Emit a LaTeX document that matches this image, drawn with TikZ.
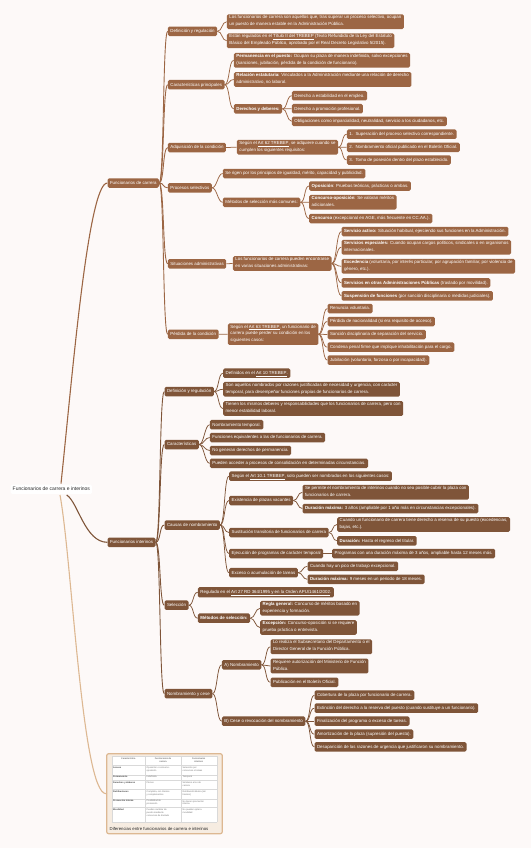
\documentclass[tikz,border=0pt]{standalone}
\usepackage{fontspec}
\setmainfont{Liberation Sans}
\definecolor{carr}{HTML}{9C6644}
\definecolor{intr}{HTML}{7F5539}
\definecolor{tanline}{HTML}{DDB892}
\definecolor{tabfill}{HTML}{F6ECE1}
\definecolor{paper}{HTML}{FDF9F8}

\tikzset{
	box/.style={rounded corners=1.5pt, inner xsep=2.5pt, inner ysep=1.35pt, text=white, align=left, anchor=west,
		font=\fontsize{4.4}{6.8}\selectfont, execute at begin node=\strut, execute at end node=\strut},
	cbox/.style={box, fill=carr},
	ibox/.style={box, fill=intr},
	link/.style={to path={.. controls +(5,0) and +(-5,0) .. (\tikztotarget)}},
	cline/.style={draw=carr, line width=0.75pt, link},
	iline/.style={draw=intr, line width=0.75pt, link},
	gridline/.style={draw=black!15, line width=0.3pt},
	cell/.style={anchor=north west, inner sep=0pt, align=left, text=black!55, font=\fontsize{2.3}{2.9}\selectfont},
	head/.style={anchor=north, inner sep=0pt, align=center, text=black!75, font=\fontsize{2.3}{2.9}\selectfont},
}

\begin{document}
\begin{tikzpicture}[x=1pt, y=-1pt]
	\useasboundingbox[fill=paper] (0,0) rectangle (531,848);
	
	% Root
	\node[box, fill=white, text=black!85, inner xsep=2pt, font=\fontsize{5}{6.8}\selectfont] (root) at (10.5,489.3) {Funcionarios de carrera e interinos};
	\coordinate (rtop) at (61,483.5);
	\coordinate (rbot) at (66.7,495);
	\coordinate (rtbl) at (60,495);
	
	% Funcionarios de carrera
	\node[cbox] (c0) at (107.3,183) {Funcionarios de carrera};
	
	\node[cbox] (c1) at (167.7,31.3) {Definición y regulación};
	\node[cbox] (c11) at (226.7,21.7) {Los funcionarios de carrera son aquellos que, tras superar un proceso selectivo, ocupan\\un puesto de manera estable en la Administración Pública.};
	\node[cbox] (c12) at (226.7,40.8) {Están regulados en el \underline{Título II del TREBEP} (Texto Refundido de la Ley del Estatuto\\Básico del Empleado Público, aprobado por el Real Decreto Legislativo 5/2015).};
	
	\node[cbox] (c2) at (167.7,84.7) {Características principales};
	\node[cbox] (c21) at (233.7,60.3) {\textbf{Permanencia en el puesto:} Ocupan su plaza de manera indefinida, salvo excepciones\\(sanciones, jubilación, pérdida de la condición de funcionario).};
	\node[cbox] (c22) at (233.7,79.5) {\textbf{Relación estatutaria:} Vinculados a la Administración mediante una relación de derecho\\administrativo, no laboral.};
	\node[cbox] (c23) at (233.7,108.8) {\textbf{Derechos y deberes:}};
	\node[cbox] (c231) at (291.7,95.7) {Derecho a estabilidad en el empleo.};
	\node[cbox] (c232) at (291.7,108.7) {Derecho a promoción profesional.};
	\node[cbox] (c233) at (291.7,121.3) {Obligaciones como imparcialidad, neutralidad, servicio a los ciudadanos, etc.};
	
	\node[cbox] (c3) at (167.7,147.5) {Adquisición de la condición};
	\node[cbox] (c31) at (236.7,147.2) {Según el \underline{Art 62 TREBEP}, se adquiere cuando se\\cumplen los siguientes requisitos:};
	\node[cbox] (c311) at (346.7,134.2) {1.\ \ Superación del proceso selectivo correspondiente.};
	\node[cbox] (c312) at (346.7,147.3) {2.\ \ Nombramiento oficial publicado en el Boletín Oficial.};
	\node[cbox] (c313) at (346.7,160) {3.\ \ Toma de posesión dentro del plazo establecido.};
	
	\node[cbox] (c4) at (167.7,187.8) {Procesos selectivos};
	\node[cbox] (c41) at (222.7,173.5) {Se rigen por los principios de igualdad, mérito, capacidad y publicidad.};
	\node[cbox] (c42) at (222.7,202.3) {Métodos de selección más comunes:};
	\node[cbox] (c421) at (309,186) {\textbf{Oposición}: Pruebas teóricas, prácticas o ambas.};
	\node[cbox] (c422) at (309,202.2) {\textbf{Concurso-oposición}: Se valoran méritos\\adicionales.};
	\node[cbox] (c423) at (309,218.5) {\textbf{Concurso} (excepcional en AGE, más frecuente en CC.AA.).};
	
	\node[cbox] (c5) at (167.7,263.8) {Situaciones administrativas};
	\node[cbox] (c51) at (232.7,263.5) {Los funcionarios de carrera pueden encontrarse\\en varias situaciones administrativas:};
	\node[cbox] (c511) at (341.3,231.5) {\textbf{Servicio activo:} Situación habitual, ejerciendo sus funciones en la Administración.};
	\node[cbox] (c512) at (341.3,247.2) {\textbf{Servicios especiales:} Cuando ocupan cargos políticos, sindicales o en organismos\\internacionales.};
	\node[cbox] (c513) at (341.3,266.3) {\textbf{Excedencia} (voluntaria, por interés particular, por agrupación familiar, por violencia de\\género, etc.).};
	\node[cbox] (c514) at (341.3,282.8) {\textbf{Servicios en otras Administraciones Públicas} (traslado por movilidad).};
	\node[cbox] (c515) at (341.3,295.8) {\textbf{Suspensión de funciones} (por sanción disciplinaria o medidas judiciales).};
	
	\node[cbox] (c6) at (167.7,334.3) {Pérdida de la condición};
	\node[cbox] (c61) at (227.7,334.2) {Según el \underline{Art 63 TREBEP}, un funcionario de\\carrera puede perder su condición en los\\siguientes casos:};
	\node[cbox] (c611) at (327.3,308.5) {Renuncia voluntaria.};
	\node[cbox] (c612) at (327.3,321.5) {Pérdida de nacionalidad (si era requisito de acceso).};
	\node[cbox] (c613) at (327.3,334.5) {Sanción disciplinaria de separación del servicio.};
	\node[cbox] (c614) at (327.3,347.2) {Condena penal firme que implique inhabilitación para el cargo.};
	\node[cbox] (c615) at (327.3,360.2) {Jubilación (voluntaria, forzosa o por incapacidad).};
	
	% Funcionarios interinos
	\node[ibox] (i0) at (107.3,542.3) {Funcionarios interinos};
	
	\node[ibox] (i1) at (164.3,391.5) {Definición y regulación};
	\node[ibox] (i11) at (223,373.2) {Definidos en el \underline{Art 10 TREBEP}.};
	\node[ibox] (i12) at (223,389.3) {Son aquellos nombrados por razones justificadas de necesidad y urgencia, con carácter\\temporal, para desempeñar funciones propias de funcionarios de carrera.};
	\node[ibox] (i13) at (223,408.5) {Tienen los mismos deberes y responsabilidades que los funcionarios de carrera, pero con\\menor estabilidad laboral.};
	
	\node[ibox] (i2) at (164.3,444.5) {Características};
	\node[ibox] (i21) at (209.7,424.7) {Nombramiento temporal.};
	\node[ibox] (i22) at (209.7,437.5) {Funciones equivalentes a las de funcionarios de carrera.};
	\node[ibox] (i23) at (209.7,450.5) {No generan derechos de permanencia.};
	\node[ibox] (i24) at (209.7,463.3) {Pueden acceder a procesos de consolidación en determinadas circunstancias.};
	
	\node[ibox] (i3) at (164.3,525) {Causas de nombramiento};
	\node[ibox] (i31) at (229,476.2) {Según el \underline{Art 10.1 TREBEP}, solo pueden ser nombrados en los siguientes casos:};
	\node[ibox] (i32) at (229,500.5) {Existencia de plazas vacantes};
	\node[ibox] (i321) at (302.3,492.3) {Se permite el nombramiento de interinos cuando no sea posible cubrir la plaza con\\funcionarios de carrera.};
	\node[ibox] (i322) at (302.3,508.5) {\textbf{Duración máxima:} 3 años (ampliable por 1 año más en circunstancias excepcionales).};
	\node[ibox] (i33) at (229,532.5) {Sustitución transitoria de funcionarios de carrera};
	\node[ibox] (i331) at (337,524.5) {Cuando un funcionario de carrera tiene derecho a reserva de su puesto (excedencias,\\bajas, etc.).};
	\node[ibox] (i332) at (337,540.8) {\textbf{Duración:} Hasta el regreso del titular.};
	\node[ibox] (i34) at (229,553.5) {Ejecución de programas de carácter temporal};
	\node[ibox] (i341) at (332,553.5) {Programas con una duración máxima de 3 años, ampliable hasta 12 meses más.};
	\node[ibox] (i35) at (229,572.7) {Exceso o acumulación de tareas};
	\node[ibox] (i351) at (307.3,566.3) {Cuando hay un pico de trabajo excepcional.};
	\node[ibox] (i352) at (307.3,579.3) {\textbf{Duración máxima:} 9 meses en un periodo de 18 meses.};
	
	\node[ibox] (i4) at (164.3,605.2) {Selección};
	\node[ibox] (i41) at (197.7,592.3) {Regulado en el \underline{Art 27 RD 364/1995 y en la Orden APU/1461/2002}.};
	\node[ibox] (i42) at (197.7,618.2) {\textbf{Métodos de selección:}};
	\node[ibox] (i421) at (260,608.3) {\textbf{Regla general:} Concurso de méritos basado en\\experiencia y formación.};
	\node[ibox] (i422) at (260,627.5) {\textbf{Excepción:} Concurso-oposición si se requiere\\prueba práctica o entrevista.};
	
	\node[ibox] (i5) at (164.3,693.7) {Nombramiento y cese};
	\node[ibox] (i51) at (221.7,664.8) {A) Nombramiento};
	\node[ibox] (i511) at (270.3,646.8) {Lo realiza el Subsecretario del Departamento o el\\Director General de la Función Pública.};
	\node[ibox] (i512) at (270.3,666) {Requiere autorización del Ministerio de Función\\Pública.};
	\node[ibox] (i513) at (270.3,682.3) {Publicación en el Boletín Oficial.};
	\node[ibox] (i52) at (221.7,721.2) {B) Cese o revocación del nombramiento};
	\node[ibox] (i521) at (314.3,695.2) {Cobertura de la plaza por funcionario de carrera.};
	\node[ibox] (i522) at (314.3,708.2) {Extinción del derecho a la reserva del puesto (cuando sustituye a un funcionario).};
	\node[ibox] (i523) at (314.3,721.2) {Finalización del programa o exceso de tareas.};
	\node[ibox] (i524) at (314.3,734.2) {Amortización de la plaza (supresión del puesto).};
	\node[ibox] (i525) at (314.3,746.8) {Desaparición de las razones de urgencia que justificaron su nombramiento.};
	
	% Table
	\node[draw=tanline, fill=tabfill, line width=1.2pt, rounded corners=2pt, minimum width=115.6pt, minimum height=80pt, inner sep=0pt] (tbl) at (164.5,793.7) {};
	\fill[white] (111.7,756) rectangle (216.7,822);
	\foreach \y in {756,765.3,774.7,780,789.3,798.7,807,822}
		\draw[gridline] (111.7,\y) -- (216.7,\y);
	\foreach \x in {111.7,145,181,216.7}
		\draw[gridline] (\x,756) -- (\x,822);
	
	\node[head] (th1) at (128.3,757.3) {Característica};
	\node[head] (th2) at (163,757.3) {Funcionarios de\\carrera};
	\node[head] (th3) at (198.8,757.3) {Funcionarios\\interinos};
	
	\node[cell, font=\fontsize{2.3}{2.9}\selectfont\bfseries, text=black!75] (ta1) at (113,766.8) {Acceso};
	\node[cell] (tb1) at (146.5,766.8) {Oposición o concurso-\\oposición};
	\node[cell] (tc1) at (182.5,766.8) {Selección por\\concursos o bolsas};
	\node[cell, font=\fontsize{2.3}{2.9}\selectfont\bfseries, text=black!75] (ta2) at (113,776) {Permanencia};
	\node[cell] (tb2) at (146.5,776) {Indefinida};
	\node[cell] (tc2) at (182.5,776) {Temporal};
	\node[cell, font=\fontsize{2.3}{2.9}\selectfont\bfseries, text=black!75] (ta3) at (113,781.3) {Derechos y deberes};
	\node[cell] (tb3) at (146.5,781.3) {Plenos};
	\node[cell] (tc3) at (182.5,781.3) {Similares a los de\\carrera};
	\node[cell, font=\fontsize{2.3}{2.9}\selectfont\bfseries, text=black!75] (ta4) at (113,790.8) {Retribuciones};
	\node[cell] (tb4) at (146.5,790.8) {Completa, con trienios\\y complementos};
	\node[cell] (tc4) at (182.5,790.8) {Retribución básica (sin\\trienios)};
	\node[cell, font=\fontsize{2.3}{2.9}\selectfont\bfseries, text=black!75] (ta5) at (113,800.1) {Promoción interna};
	\node[cell] (tb5) at (146.5,800.1) {Posibilidad de\\promoción};
	\node[cell] (tc5) at (182.5,800.1) {No tienen promoción\\interna};
	\node[cell, font=\fontsize{2.3}{2.9}\selectfont\bfseries, text=black!75] (ta6) at (113,808.5) {Movilidad};
	\node[cell] (tb6) at (146.5,808.5) {Pueden cambiar de\\puesto mediante\\concursos de traslado};
	\node[cell] (tc6) at (182.5,808.5) {No pueden optar a\\movilidad};
	
	\node[anchor=west, inner sep=0pt, text=black!85, font=\fontsize{4.3}{5}\selectfont] (tcap) at (109.5,828.6) {Diferencias entre funcionarios de carrera e interinos};
	
	% Connect root to main branches
	\draw[draw=carr, line width=1.1pt] (rtop) .. controls (72,380) and (88,183) .. (c0.west);
	\draw[draw=intr, line width=1.1pt] (rbot) .. controls (78,502) and (85,542.3) .. (i0.west);
	\draw[draw=tanline, line width=1.1pt] (rtbl) .. controls (72,560) and (82,793.7) .. (tbl.west);
	
	% Connect carrera branch
	\foreach \k in {1,...,6} {
		\draw[cline, line width=0.9pt] (c0.east) to (c\k.west);
	}
	\foreach \k in {11,12} \draw[cline] (c1.east) to (c\k.west);
	\foreach \k in {21,22,23} \draw[cline] (c2.east) to (c\k.west);
	\foreach \k in {231,232,233} \draw[cline] (c23.east) to (c\k.west);
	\draw[cline] (c3.east) to (c31.west);
	\foreach \k in {311,312,313} \draw[cline] (c31.east) to (c\k.west);
	\foreach \k in {41,42} \draw[cline] (c4.east) to (c\k.west);
	\foreach \k in {421,422,423} \draw[cline] (c42.east) to (c\k.west);
	\draw[cline] (c5.east) to (c51.west);
	\foreach \k in {511,...,515} \draw[cline] (c51.east) to (c\k.west);
	\draw[cline] (c6.east) to (c61.west);
	\foreach \k in {611,...,615} \draw[cline] (c61.east) to (c\k.west);
	
	% Connect interinos branch
	\foreach \k in {1,...,5} {
		\draw[iline, line width=0.9pt] (i0.east) to (i\k.west);
	}
	\foreach \k in {11,12,13} \draw[iline] (i1.east) to (i\k.west);
	\foreach \k in {21,...,24} \draw[iline] (i2.east) to (i\k.west);
	\foreach \k in {31,...,35} \draw[iline] (i3.east) to (i\k.west);
	\foreach \k in {321,322} \draw[iline] (i32.east) to (i\k.west);
	\foreach \k in {331,332} \draw[iline] (i33.east) to (i\k.west);
	\draw[iline] (i34.east) to (i341.west);
	\foreach \k in {351,352} \draw[iline] (i35.east) to (i\k.west);
	\foreach \k in {41,42} \draw[iline] (i4.east) to (i\k.west);
	\foreach \k in {421,422} \draw[iline] (i42.east) to (i\k.west);
	\foreach \k in {51,52} \draw[iline] (i5.east) to (i\k.west);
	\foreach \k in {511,512,513} \draw[iline] (i51.east) to (i\k.west);
	\foreach \k in {521,...,525} \draw[iline] (i52.east) to (i\k.west);
\end{tikzpicture}
\end{document}
